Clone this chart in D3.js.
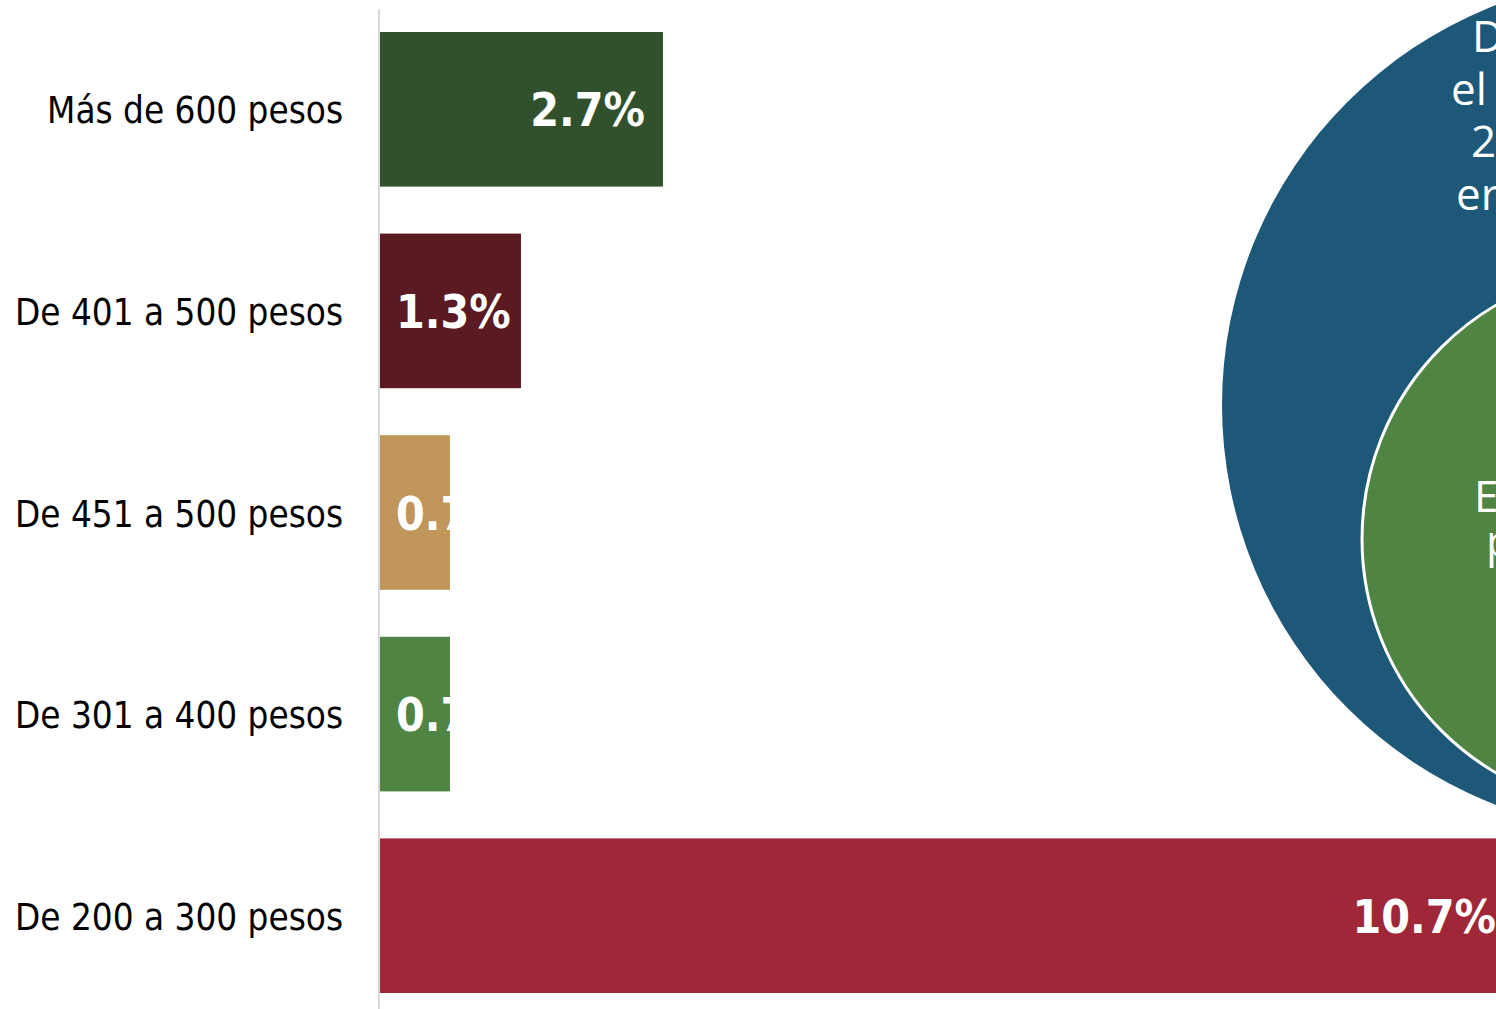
<!DOCTYPE html>
<html>
<head>
<meta charset="utf-8">
<script src="https://cdn.jsdelivr.net/npm/d3@7"></script>
<style>
  html, body { margin: 0; padding: 0; background: #fff; overflow: hidden; }
  svg { display: block; }
</style>
</head>
<body>
<div id="chart"></div>
<script>
// datos del gráfico
const categories = ["Más de 600 pesos", "De 401 a 500 pesos", "De 451 a 500 pesos", "De 301 a 400 pesos", "De 200 a 300 pesos"];
const values = [2.67, 1.33, 0.66, 0.66, 10.7];
const barColors = ["#31502C", "#5B1A22", "#C1965A", "#4F8443", "#A02737"];

// textos de los círculos (sólo se ve el borde izquierdo)
const outerLines = ["D", "el", "2", "er"];
const innerLines = ["E", "p"];

const width = 1496, height = 1009;

const svg = d3.select("#chart").append("svg")
    .attr("width", width)
    .attr("height", height);

// escalas
const x = d3.scaleLinear().domain([0, 10.7]).range([380, 1514]);
const y = d3.scaleBand()
    .domain(categories)
    .range([8.5, 1016.5])
    .paddingInner(0.233)
    .paddingOuter(0.1165);

// círculos de fondo
const outer = { cx: 1651, cy: 405, r: 429 };
const inner = { cx: 1633, cy: 539, r: 271 };

svg.append("circle")
    .attr("cx", outer.cx).attr("cy", outer.cy).attr("r", outer.r)
    .attr("fill", "#1E5878");

svg.append("circle")
    .attr("cx", inner.cx).attr("cy", inner.cy).attr("r", inner.r)
    .attr("fill", "#4F8443")
    .attr("stroke", "#fff")
    .attr("stroke-width", 3);

const outerX = [1472, 1451, 1471, 1456];
svg.append("g").selectAll("text")
    .data(outerLines)
    .join("text")
    .attr("x", (d, i) => outerX[i])
    .attr("y", (d, i) => 52 + i * 52.7)
    .attr("fill", "#fff")
    .style("font-family", "'Open Sans', sans-serif")
    .style("font-size", "44px")
    .text(d => d);

const innerX = [1474, 1486];
svg.append("g").selectAll("text")
    .data(innerLines)
    .join("text")
    .attr("x", (d, i) => innerX[i])
    .attr("y", (d, i) => 512 + i * 45)
    .attr("fill", "#fff")
    .style("font-family", "'Open Sans', sans-serif")
    .style("font-size", "44px")
    .text(d => d);

// barras
const defs = svg.append("defs");
categories.forEach((c, i) => {
    defs.append("clipPath").attr("id", "clip" + i)
        .append("rect")
        .attr("x", x(0))
        .attr("y", y(c))
        .attr("width", x(values[i]) - x(0))
        .attr("height", y.bandwidth());
});

const bars = svg.append("g");
bars.selectAll("rect")
    .data(categories)
    .join("rect")
    .attr("x", x(0))
    .attr("y", d => y(d))
    .attr("width", (d, i) => x(values[i]) - x(0))
    .attr("height", y.bandwidth())
    .attr("fill", (d, i) => barColors[i]);

// etiquetas de valor
const labels = svg.append("g");
categories.forEach((c, i) => {
    const t = labels.append("text")
        .attr("clip-path", `url(#clip${i})`)
        .attr("y", y(c) + y.bandwidth() / 2 + 17)
        .attr("fill", "#fff")
        .style("font-family", "'DejaVu Sans Condensed', 'DejaVu Sans', sans-serif")
        .style("font-weight", "bold")
        .style("font-size", "46px")
        .text(values[i].toFixed(1) + "%");
    const w = t.node().getComputedTextLength();
    const end = x(values[i]) - 18;
    t.attr("x", Math.max(x(0) + 16, end - w));
});

// eje vertical
svg.append("line")
    .attr("x1", 379).attr("x2", 379)
    .attr("y1", 9).attr("y2", height)
    .attr("stroke", "#D9D9D9")
    .attr("stroke-width", 2);

// etiquetas de categoría
svg.append("g").selectAll("text")
    .data(categories)
    .join("text")
    .attr("x", 343)
    .attr("y", d => y(d) + y.bandwidth() / 2 + 14)
    .attr("text-anchor", "end")
    .attr("fill", "#000")
    .style("font-family", "'DejaVu Sans Condensed', 'DejaVu Sans', sans-serif")
    .style("font-size", "36.5px")
    .text(d => d);
</script>
</body>
</html>
